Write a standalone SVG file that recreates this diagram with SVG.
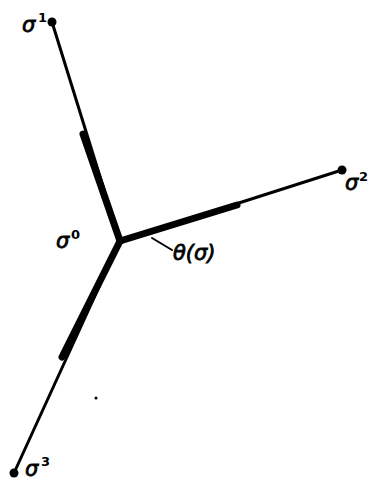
<svg xmlns="http://www.w3.org/2000/svg" width="372" height="482" viewBox="0 0 372 482">
<style>
.thin{stroke:#000;stroke-width:3;stroke-linecap:round;fill:none}
.thick{stroke:#000;stroke-width:7;stroke-linecap:round;fill:none}
.lbl{font-family:"DejaVu Sans","Liberation Sans",sans-serif;font-style:italic;font-size:21px;fill:#000;stroke:#000;stroke-width:0.8}
.sup{font-family:"DejaVu Sans","Liberation Sans",sans-serif;font-size:13px;font-weight:bold;fill:#000}
</style>
<rect width="372" height="482" fill="#fff"/>
<g id="connectors">
<line class="thin" x1="120" y1="241" x2="52" y2="22"/>
<line class="thick" x1="120" y1="241" x2="83" y2="134"/>
<line class="thin" x1="120" y1="241" x2="342" y2="170"/>
<line class="thick" x1="120" y1="241" x2="237" y2="205"/>
<line class="thin" x1="120" y1="241" x2="14" y2="473"/>
<line class="thick" x1="120" y1="241" x2="62" y2="357"/>
<line class="thin" x1="152" y1="238" x2="172" y2="250" style="stroke-width:2"/>
</g>
<g id="s1"><circle cx="52" cy="22" r="4.5"/><text class="lbl" x="22" y="32">σ</text><text class="sup" x="38" y="22">1</text></g>
<g id="s2"><circle cx="342" cy="170" r="4.5"/><text class="lbl" x="345" y="190">σ</text><text class="sup" x="359" y="181">2</text></g>
<g id="s3"><circle cx="14" cy="473" r="4.5"/><text class="lbl" x="25" y="476">σ</text><text class="sup" x="41" y="466">3</text></g>
<g id="s0"><text class="lbl" x="56" y="248">σ</text><text class="sup" x="71" y="239">0</text></g>
<g id="e"><text class="lbl" x="173" y="260">θ(σ)</text></g>
<circle cx="96" cy="398" r="1.5"/>
</svg>
